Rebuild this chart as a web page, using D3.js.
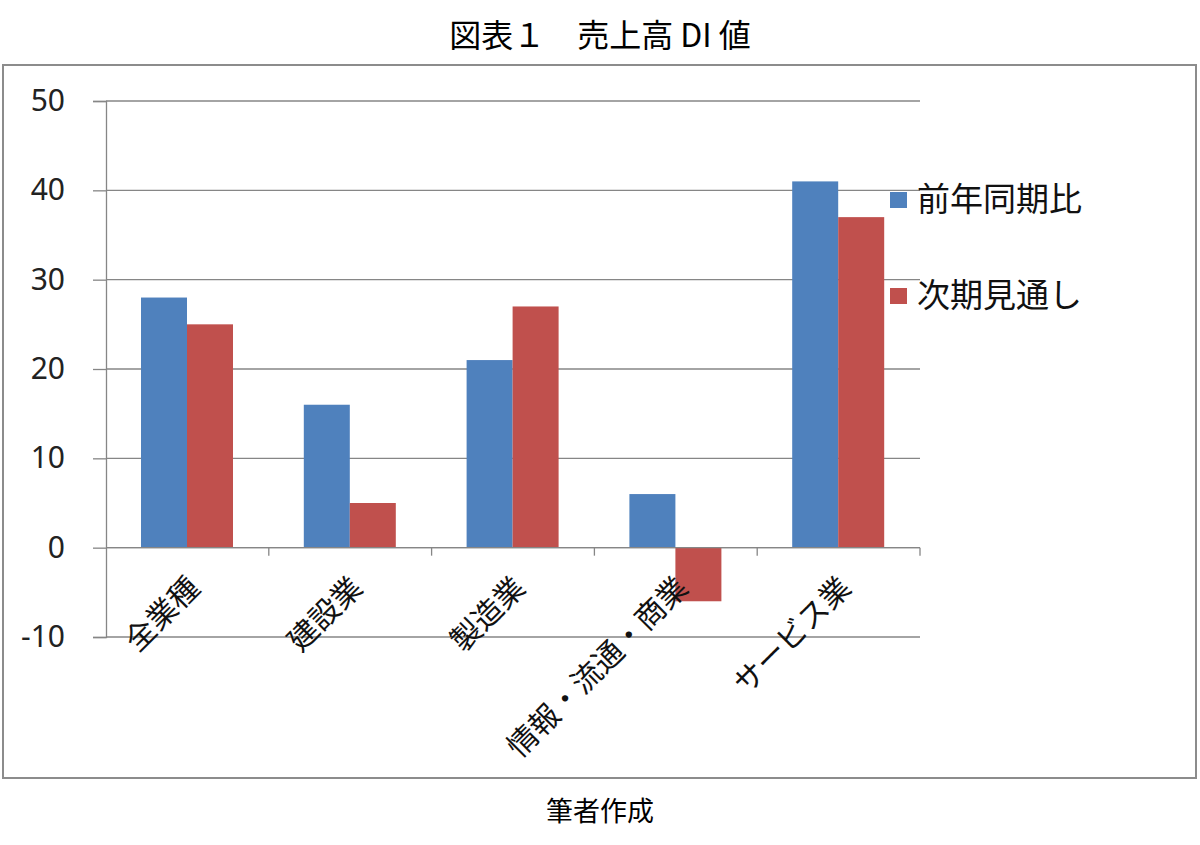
<!DOCTYPE html>
<html>
<head>
<meta charset="utf-8">
<script src="https://cdn.jsdelivr.net/npm/d3@7"></script>
<style>
  body { margin: 0; background: #fff; }
  text { font-family: "Noto Sans CJK JP", "Noto Sans", sans-serif; }
</style>
</head>
<body>
<div id="chart"></div>
<script>
// 売上高 DI 値
var categories = ['全業種', '建設業', '製造業', '情報・流通・商業', 'サービス業']
var seriesNames = ['前年同期比', '次期見通し']
var prevYear = [28, 16, 21, 6, 41]
var nextTerm = [25, 5, 27, -6, 37]
var yTicks = [-10, 0, 10, 20, 30, 40, 50]
var colors = ['#4F81BD', '#C0504D']

var W = 1200, H = 845
var svg = d3.select('#chart').append('svg')
    .attr('width', W)
    .attr('height', H)

// title + footer
svg.append('text')
    .attr('x', 600).attr('y', 47)
    .attr('text-anchor', 'middle')
    .style('font-size', '32px')
    .text('図表１　売上高 DI 値')

svg.append('text')
    .attr('x', 600).attr('y', 821)
    .attr('text-anchor', 'middle')
    .style('font-size', '27px')
    .text('筆者作成')

// chart frame
svg.append('rect')
    .attr('x', 3).attr('y', 65)
    .attr('width', 1193).attr('height', 713)
    .attr('fill', 'none')
    .attr('stroke', '#8c8c8c')
    .attr('stroke-width', 2)

var x = d3.scaleBand().domain(categories).range([106, 920])
var xs = d3.scaleBand().domain(seriesNames).range([35, 127])
var y = d3.scaleLinear().domain([-10, 50]).range([637, 101])

// gridlines
svg.append('g').selectAll('line')
    .data(yTicks)
    .join('line')
    .attr('x1', 106).attr('x2', 920)
    .attr('y1', function (d) { return y(d) })
    .attr('y2', function (d) { return y(d) })
    .attr('stroke', '#868686')
    .attr('stroke-width', 1.3)

// y axis (plain hyphen for negatives, like the original)
var yAxis = svg.append('g')
    .attr('transform', 'translate(106,0)')
    .call(d3.axisLeft(y).tickValues(yTicks).tickSize(13).tickPadding(28).tickFormat(function (d) { return String(d) }))
yAxis.select('.domain').attr('stroke', '#868686').attr('stroke-width', 1.3)
yAxis.selectAll('.tick line').attr('stroke', '#868686').attr('stroke-width', 1.3)
yAxis.selectAll('.tick text')
    .style('font-family', '"Noto Sans", sans-serif')
    .style('font-size', '30px')
    .attr('fill', '#222')

// bars
var rows = categories.map(function (c, i) {
    return { cat: c, vals: [prevYear[i], nextTerm[i]] }
})
var groups = svg.append('g').selectAll('g')
    .data(rows)
    .join('g')
    .attr('transform', function (d) { return 'translate(' + x(d.cat) + ',0)' })
groups.selectAll('rect')
    .data(function (d) { return d.vals.map(function (v, k) { return { s: seriesNames[k], v: v, k: k } }) })
    .join('rect')
    .attr('x', function (d) { return xs(d.s) })
    .attr('width', xs.bandwidth())
    .attr('y', function (d) { return y(Math.max(0, d.v)) })
    .attr('height', function (d) { return Math.abs(y(d.v) - y(0)) })
    .attr('fill', function (d) { return colors[d.k] })

// x axis at zero
var xAxis = svg.append('g')
    .attr('transform', 'translate(0,' + y(0) + ')')
xAxis.append('line')
    .attr('x1', 106).attr('x2', 920)
    .attr('stroke', '#868686').attr('stroke-width', 1.3)
xAxis.selectAll('line.tk')
    .data(categories.slice(1).concat(['end']))
    .join('line')
    .attr('class', 'tk')
    .attr('x1', function (d, i) { return 106 + x.bandwidth() * (i + 1) })
    .attr('x2', function (d, i) { return 106 + x.bandwidth() * (i + 1) })
    .attr('y1', 0).attr('y2', 8)
    .attr('stroke', '#868686').attr('stroke-width', 1.3)

svg.append('g').selectAll('text')
    .data(categories)
    .join('text')
    .attr('text-anchor', 'end')
    .attr('transform', function (d) {
        var cx = x(d) + x.bandwidth() / 2 + 14
        return 'translate(' + cx + ',' + (y(0) + 42) + ') rotate(-45)'
    })
    .style('font-size', '30px')
    .attr('fill', '#111')
    .text(function (d) { return d })

// legend
var legend = svg.append('g').selectAll('g')
    .data(seriesNames)
    .join('g')
    .attr('transform', function (d, i) { return 'translate(890,' + (192 + i * 96) + ')' })
legend.append('rect')
    .attr('width', 17).attr('height', 16)
    .attr('fill', function (d, i) { return colors[i] })
legend.append('text')
    .attr('x', 27).attr('y', 19)
    .style('font-size', '33px')
    .attr('fill', '#111')
    .text(function (d) { return d })
</script>
</body>
</html>
